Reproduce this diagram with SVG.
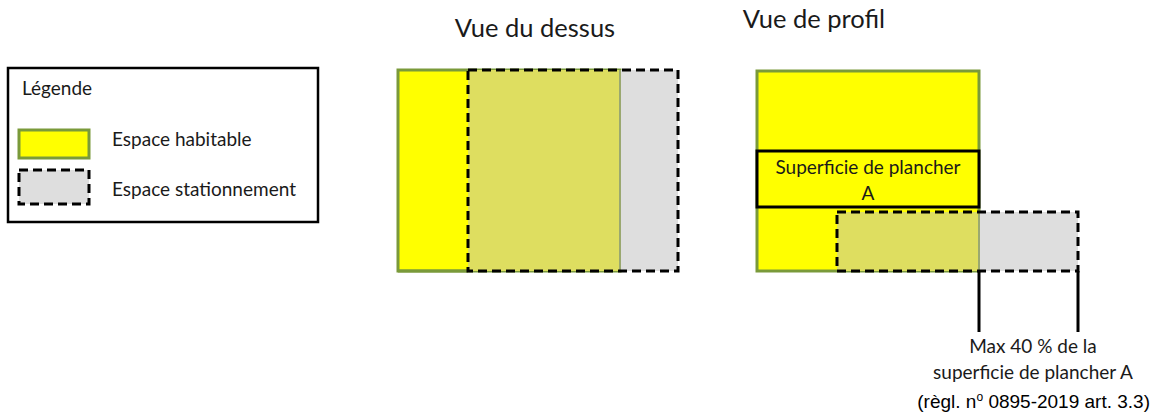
<svg xmlns="http://www.w3.org/2000/svg" width="1160" height="417" viewBox="0 0 1160 417">
<style>
.t{font-family:Lato,"Open Sans",sans-serif;fill:#1a1a1a}
.hab{fill:#ffff00;stroke:#7a9a3a;stroke-width:3}
.park{fill:#dedede}
.ov{fill:#dede60}
.dash{fill:none;stroke:#000;stroke-width:3;stroke-dasharray:9 5}
.edge{stroke:#9aa870;stroke-width:2}
.ln{stroke:#000;stroke-width:3}
</style>
<rect width="1160" height="417" fill="#fff"/>
<g id="legend">
<rect x="8" y="68" width="310" height="154" fill="#fff" stroke="#000" stroke-width="2.5"/>
<text class="t" x="22" y="95" font-size="19">Légende</text>
<rect class="hab" x="19" y="130" width="70" height="28"/>
<rect class="park" x="19" y="170" width="70" height="34"/>
<rect class="dash" x="19" y="170" width="70" height="34"/>
<text class="t" x="112" y="146" font-size="19">Espace habitable</text>
<text class="t" x="112" y="196" font-size="19">Espace stationnement</text>
</g>
<g id="top-view">
<text class="t" x="535" y="37" font-size="25.5" text-anchor="middle">Vue du dessus</text>
<rect class="hab" x="398" y="70" width="222" height="201"/>
<rect class="park" x="468" y="70" width="210" height="201"/>
<rect class="ov" x="468" y="70" width="152" height="201"/>
<line class="edge" x1="620" y1="70" x2="620" y2="271"/>
<line x1="398" y1="271" x2="468" y2="271" stroke="#7a9a3a" stroke-width="3"/>
<rect class="dash" x="468" y="70" width="210" height="201"/>
</g>
<g id="profile-view">
<text class="t" x="814" y="28" font-size="25.5" text-anchor="middle">Vue de profil</text>
<rect class="hab" x="757" y="71" width="222" height="200"/>
<rect class="park" x="837" y="212" width="241" height="59"/>
<rect class="ov" x="837" y="212" width="142" height="59"/>
<line class="edge" x1="979" y1="212" x2="979" y2="271"/>
<rect class="dash" x="837" y="212" width="241" height="59"/>
</g>
<g id="floor-area-A">
<rect x="757" y="151" width="222" height="56" fill="#ffff00" stroke="#000" stroke-width="3"/>
<text class="t" x="868" y="174" font-size="19" text-anchor="middle">Superficie de plancher</text>
<text class="t" x="868" y="200" font-size="19" text-anchor="middle">A</text>
</g>
<g id="connectors">
<line class="ln" x1="979" y1="271" x2="979" y2="332"/>
<line class="ln" x1="1078" y1="271" x2="1078" y2="332"/>
</g>
<g id="annotation">
<text class="t" x="1033" y="353" font-size="19" text-anchor="middle">Max 40 % de la</text>
<text class="t" x="1033" y="379" font-size="19" text-anchor="middle">superficie de plancher A</text>
<text x="1150" y="408" font-size="19" text-anchor="end" font-family="'Liberation Sans',Arial,sans-serif" fill="#000">(règl. n<tspan font-size="12" dy="-7">o</tspan><tspan dy="7"> 0895-2019 art. 3.3)</tspan></text>
</g>
</svg>
